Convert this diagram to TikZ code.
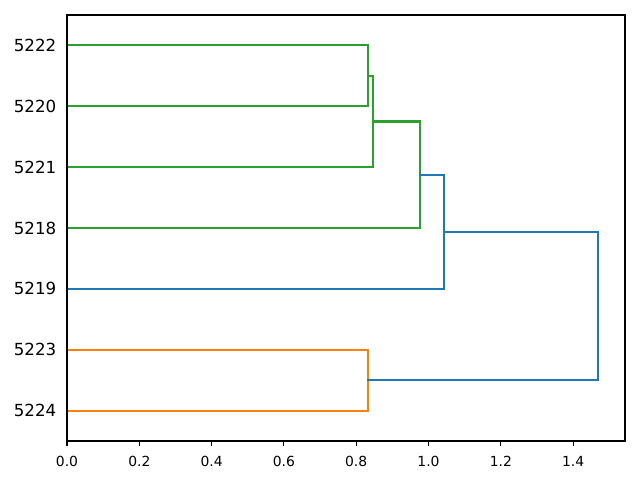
\documentclass[tikz,border=0pt]{standalone}
\usepackage{fontspec}
\setmainfont{DejaVu Sans}
\usetikzlibrary{positioning}

\definecolor{linkgreen}{HTML}{2CA02C}
\definecolor{linkorange}{HTML}{FF7F0E}
\definecolor{linkblue}{HTML}{1F77B4}

\begin{document}
\begin{tikzpicture}[
    x=260.28pt, y=4.382pt,
    link/.style={line width=1.5pt, line cap=rect},
    frame/.style={draw=black, line width=0.8pt},
    leaf label/.style={anchor=east, inner sep=0pt, xshift=-7.5pt, font=\fontsize{12}{14}\selectfont},
    tick label/.style={anchor=north, inner sep=0pt, yshift=-7pt, font=\fontsize{10}{12}\selectfont}
]
    \useasboundingbox (-48.24pt,-28.08pt) rectangle (412.56pt,317.52pt);

    % leaves
    \coordinate (l5222) at (0,65);
    \coordinate (l5220) at (0,55);
    \coordinate (l5221) at (0,45);
    \coordinate (l5218) at (0,35);
    \coordinate (l5219) at (0,25);
    \coordinate (l5223) at (0,15);
    \coordinate (l5224) at (0,5);

    \node[leaf label] (t5222) at (l5222) {5222};
    \node[leaf label] (t5220) at (l5220) {5220};
    \node[leaf label] (t5221) at (l5221) {5221};
    \node[leaf label] (t5218) at (l5218) {5218};
    \node[leaf label] (t5219) at (l5219) {5219};
    \node[leaf label] (t5223) at (l5223) {5223};
    \node[leaf label] (t5224) at (l5224) {5224};

    % merges
    \coordinate (m1) at (0.833,60);
    \coordinate (m2) at (0.847,52.5);
    \coordinate (m3) at (0.977,43.75);
    \coordinate (m4) at (1.043,34.375);
    \coordinate (m5) at (0.833,10);
    \coordinate (m6) at (1.470,22.1875);

    \draw[link, linkgreen] (l5222) -| (m1) |- (l5220);
    \draw[link, linkgreen] (m1) -| (m2) |- (l5221);
    \draw[link, linkgreen] (m2) -| (m3) |- (l5218);
    \draw[link, linkorange] (l5223) -| (m5) |- (l5224);
    \draw[link, linkblue] (m3) -| (m4) |- (l5219);
    \draw[link, linkblue] (m4) -| (m6) |- (m5);

    % axes
    \draw[frame] (0,0) rectangle (1.5435,70);

    \draw[frame] (0,0) -- ++(0,-3.5pt) node[tick label] (x0) {0.0};
    \draw[frame] (0.2,0) -- ++(0,-3.5pt) node[tick label] (x1) {0.2};
    \draw[frame] (0.4,0) -- ++(0,-3.5pt) node[tick label] (x2) {0.4};
    \draw[frame] (0.6,0) -- ++(0,-3.5pt) node[tick label] (x3) {0.6};
    \draw[frame] (0.8,0) -- ++(0,-3.5pt) node[tick label] (x4) {0.8};
    \draw[frame] (1.0,0) -- ++(0,-3.5pt) node[tick label] (x5) {1.0};
    \draw[frame] (1.2,0) -- ++(0,-3.5pt) node[tick label] (x6) {1.2};
    \draw[frame] (1.4,0) -- ++(0,-3.5pt) node[tick label] (x7) {1.4};
\end{tikzpicture}
\end{document}
